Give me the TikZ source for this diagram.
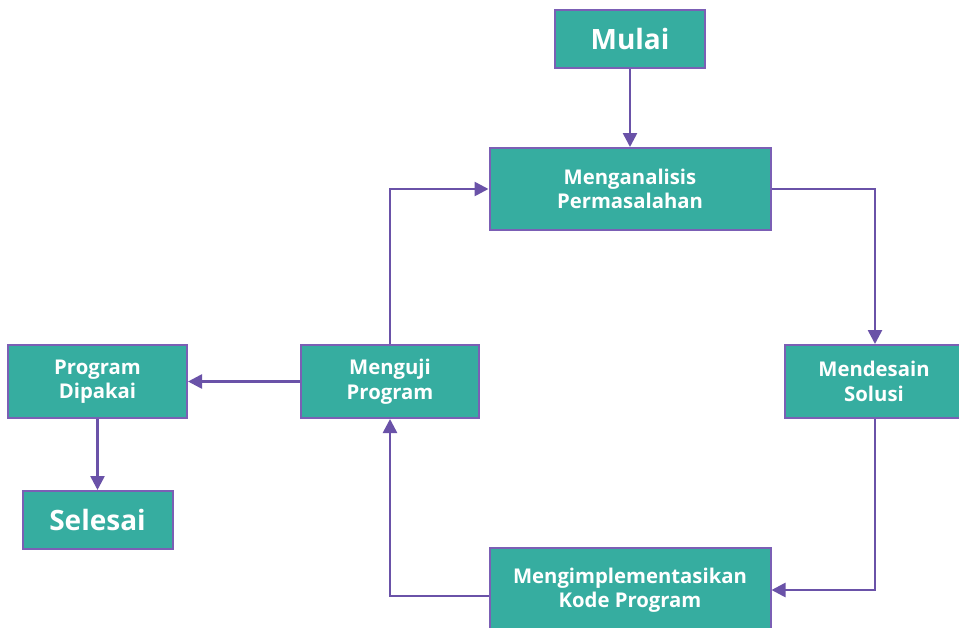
\documentclass[tikz,border=0pt]{standalone}
\usepackage{fontspec}
\setmainfont{Open Sans}
\usetikzlibrary{arrows.meta}
\definecolor{boxfill}{HTML}{36ADA0}
\definecolor{boxline}{HTML}{7B5FB5}
\definecolor{arrowc}{HTML}{6A52A8}
\tikzset{
  box/.style={draw=boxline, fill=boxfill, line width=2pt, text=white, font=\bfseries\fontsize{20.3}{24.5}\selectfont, align=center, inner sep=0pt},
  bigbox/.style={box, font=\bfseries\fontsize{28}{30}\selectfont},
  conn/.style={draw=arrowc, line width=2.6pt, -{Triangle[length=14pt,width=14pt]}},
}
\begin{document}
\begin{tikzpicture}[x=1pt,y=-1pt]
\useasboundingbox (0,0) rectangle (959,627);
\fill[white] (0,0) rectangle (959,627);
\node[bigbox, minimum width=150pt, minimum height=58pt] (mulai) at (630,39) {Mulai};
\node[box, minimum width=281pt, minimum height=82pt] (analisis) at (630,189) {Menganalisis\\Permasalahan};
\node[box, minimum width=178pt, minimum height=73pt] (desain) at (874,381.5) {Mendesain\\Solusi};
\node[box, minimum width=281pt, minimum height=84pt] (impl) at (630,590) {Mengimplementasikan\\Kode Program};
\node[box, minimum width=178pt, minimum height=73pt] (uji) at (390,381.5) {Menguji\\Program};
\node[box, minimum width=179pt, minimum height=73pt] (pakai) at (97.5,381.5) {Program\\Dipakai};
\node[bigbox, minimum width=150pt, minimum height=58pt] (selesai) at (97.5,520) {Selesai};
\coordinate (c1) at (875,189);
\coordinate (c2) at (875,590);
\coordinate (c3) at (390,596);
\coordinate (c4) at (390,189);
\path[conn] (mulai.south) -- (analisis.north);
\path[conn] (analisis.east) -- (c1) -- (c1 |- desain.north);
\path[conn] (c1 |- desain.south) -- (c2) -- (c2 -| impl.east);
\path[conn] (c3 -| impl.west) -- (c3) -- (uji.south);
\path[conn] (uji.north) -- (c4) -- (analisis.west);
\path[conn] (uji.west) -- (pakai.east);
\path[conn] (pakai.south) -- (selesai.north);
\end{tikzpicture}
\end{document}
